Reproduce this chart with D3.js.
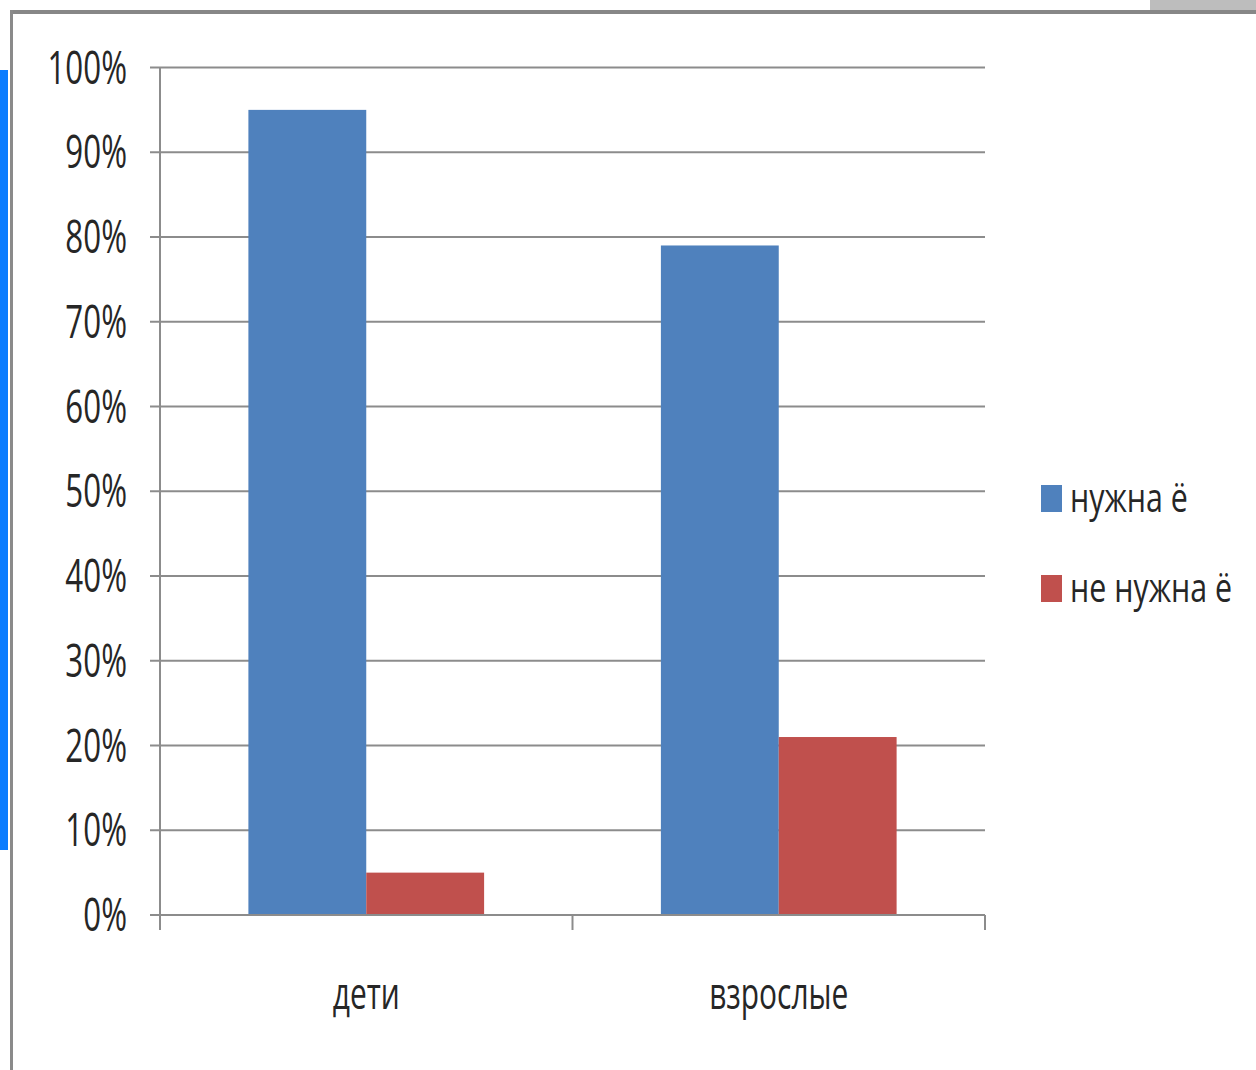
<!DOCTYPE html>
<html><head><meta charset="utf-8">
<script src="https://cdn.jsdelivr.net/npm/d3@7"></script>
<style>body{margin:0;background:#fff}svg{display:block}text{font-family:"Open Sans",sans-serif;font-weight:400;fill:#262626}</style>
</head><body>
<svg id="c" width="1256" height="1070"></svg>
<script>
const categories = ["дети", "взрослые"];
const seriesNames = ["нужна ё", "не нужна ё"];
const needYo = [0.95, 0.79];
const noNeedYo = [0.05, 0.21];
const tickValues = [0, 0.1, 0.2, 0.3, 0.4, 0.5, 0.6, 0.7, 0.8, 0.9, 1.0];
const colors = ["#4F81BD", "#C0504D"];

const svg = d3.select("#c");
const SX = 0.68;
// decorative frame
svg.append("rect").attr("x", 1150).attr("y", 0).attr("width", 106).attr("height", 11).attr("fill", "#bdbdbd");
svg.append("rect").attr("x", 0).attr("y", 70).attr("width", 8).attr("height", 780).attr("fill", "#0a7cff");
svg.append("rect").attr("x", 10).attr("y", 10).attr("width", 1246).attr("height", 4).attr("fill", "#878787");
svg.append("rect").attr("x", 10).attr("y", 10).attr("width", 3).attr("height", 1060).attr("fill", "#8a8a8a");

const pL = 160, pR = 985, pT = 67.5, pB = 915;
const y = d3.scaleLinear().domain([0, 1]).range([pB, pT]);
const x0 = d3.scaleBand().domain(categories).range([pL, pR]).paddingInner(0).paddingOuter(0);
const x1 = d3.scaleBand().domain(seriesNames).range([0, x0.bandwidth()]).paddingInner(0).paddingOuter(0.75);

// gridlines
svg.append("g").selectAll("line").data(tickValues).join("line")
  .attr("x1", pL - 10).attr("x2", pR).attr("y1", d => y(d)).attr("y2", d => y(d))
  .attr("stroke", "#8c8c8c").attr("stroke-width", 2);

// y axis
const yAxis = d3.axisLeft(y).tickValues(tickValues).tickFormat(d3.format(".0%")).tickSize(0).tickPadding(0);
const gy = svg.append("g").attr("transform", `translate(${pL},0)`).call(yAxis);
gy.select(".domain").remove();
gy.selectAll("line").remove();
gy.selectAll(".tick").attr("transform", null);
gy.selectAll("text").attr("font-size", 46).attr("x", 0).attr("y", 0).attr("dy", "0.35em").attr("text-anchor", "end")
  .attr("fill", "#262626")
  .attr("transform", d => `translate(${127 - pL},${y(d)}) scale(${SX},1)`);

// bars
const data = categories.map((c, i) => ({c, vals: [needYo[i], noNeedYo[i]]}));
const groups = svg.append("g").selectAll("g").data(data).join("g")
  .attr("transform", d => `translate(${x0(d.c)},0)`);
groups.selectAll("rect").data(d => d.vals.map((v, j) => ({s: seriesNames[j], v, j}))).join("rect")
  .attr("x", d => x1(d.s)).attr("width", x1.bandwidth())
  .attr("y", d => y(d.v)).attr("height", d => y(0) - y(d.v))
  .attr("fill", d => colors[d.j]);

// axis lines
svg.append("line").attr("x1", pL).attr("x2", pL).attr("y1", pT).attr("y2", pB + 15).attr("stroke", "#8c8c8c").attr("stroke-width", 2);
svg.append("line").attr("x1", pL).attr("x2", pR).attr("y1", pB).attr("y2", pB).attr("stroke", "#8c8c8c").attr("stroke-width", 2);
const xTicks = [pL, ...categories.map(c => x0(c) + x0.bandwidth())];
svg.append("g").selectAll("line").data(xTicks).join("line")
  .attr("x1", d => d).attr("x2", d => d).attr("y1", pB).attr("y2", pB + 15)
  .attr("stroke", "#8c8c8c").attr("stroke-width", 2);

// category labels
svg.append("g").selectAll("text").data(categories).join("text")
  .attr("text-anchor", "middle").attr("font-size", 44)
  .attr("transform", d => `translate(${x0(d) + x0.bandwidth() / 2},1009) scale(${SX},1)`)
  .text(d => d);

// legend
const leg = svg.append("g").selectAll("g").data(seriesNames).join("g")
  .attr("transform", (d, i) => `translate(1041,${485 + i * 90})`);
leg.append("rect").attr("width", 21).attr("height", 27).attr("fill", (d, i) => colors[i]);
leg.append("text").attr("font-size", 40)
  .attr("transform", `translate(29,27) scale(0.76,1)`).text(d => d);
</script>
</body></html>
